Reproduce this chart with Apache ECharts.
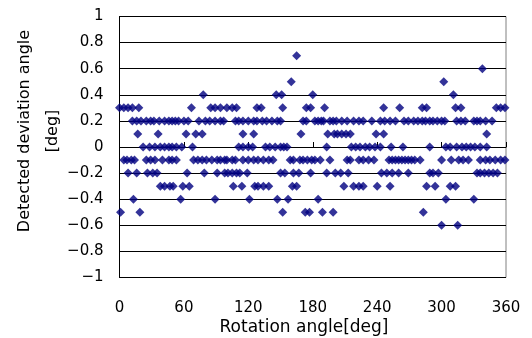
<!DOCTYPE html>
<html><head><meta charset="utf-8">
<script src="https://cdn.jsdelivr.net/npm/echarts@6/dist/echarts.min.js"></script>
<style>html,body{margin:0;padding:0;background:#fff}#c{width:532px;height:338px}</style>
</head><body><div id="c"></div>
<script>
// x positions (rotation angle, deg) of points at each detected deviation level
var levels = [0.7, 0.6, 0.5, 0.4, 0.3, 0.2, 0.1, 0, -0.1, -0.2, -0.3, -0.4, -0.5, -0.6];
var xAt07 = [165];
var xAt06 = [338];
var xAt05 = [160, 302];
var xAt04 = [78, 146, 151, 180, 311];
var xAt03 = [0, 4, 8, 12, 18, 67, 85, 89, 94, 100, 105, 109, 128, 132, 152, 174, 178, 191, 246, 261, 282, 286, 313, 318, 351, 355, 359];
var xAt02 = [12, 16, 20, 25, 29, 32, 37, 42, 46, 49, 52, 55, 60, 64, 74, 80, 84, 89, 94, 97, 108, 111, 115, 120, 125, 128, 133, 137, 142, 147, 150, 171, 174, 182, 185, 188, 190, 196, 199, 202, 207, 212, 218, 223, 227, 235, 243, 247, 252, 257, 265, 269, 274, 278, 282, 285, 289, 292, 296, 300, 303, 314, 318, 322, 330, 333, 336, 341, 347];
var xAt01 = [17, 36, 62, 71, 77, 115, 125, 169, 194, 200, 203, 207, 211, 215, 239, 246, 342];
var xAt00 = [22, 28, 33, 38, 42, 46, 49, 53, 58, 68, 111, 115, 120, 124, 136, 140, 145, 150, 153, 156, 193, 216, 220, 224, 229, 233, 238, 243, 253, 264, 289, 304, 308, 314, 319, 323, 327, 331, 336, 342];
var xAtM01 = [4, 7, 11, 14, 25, 29, 33, 40, 46, 49, 53, 69, 73, 77, 81, 86, 91, 94, 98, 100, 105, 108, 115, 120, 125, 129, 134, 139, 143, 159, 162, 168, 171, 175, 179, 182, 187, 196, 212, 215, 223, 227, 232, 237, 251, 254, 257, 260, 263, 266, 269, 272, 275, 280, 300, 309, 316, 320, 325, 336, 341, 345, 350, 355, 359];
var xAtM02 = [8, 16, 26, 31, 35, 63, 79, 91, 98, 101, 105, 109, 112, 119, 150, 154, 162, 167, 178, 193, 201, 206, 213, 244, 249, 254, 260, 269, 289, 292, 297, 333, 336, 340, 344, 348, 352];
var xAtM03 = [38, 42, 47, 50, 59, 65, 106, 114, 126, 129, 134, 139, 161, 165, 209, 218, 223, 227, 240, 252, 286, 294, 308, 313];
var xAtM04 = [13, 57, 89, 121, 147, 157, 185, 304, 330];
var xAtM05 = [1, 19, 152, 173, 177, 189, 199, 283];
var xAtM06 = [300, 315];
var xTicks = [0, 60, 120, 180, 240, 300, 360];
var yTicks = [-1, -0.8, -0.6, -0.4, -0.2, 0, 0.2, 0.4, 0.6, 0.8, 1];
var xTitle = 'Rotation angle[deg]';
var yTitle = 'Detected deviation angle\n[deg]';

var rows = [xAt07, xAt06, xAt05, xAt04, xAt03, xAt02, xAt01, xAt00, xAtM01, xAtM02, xAtM03, xAtM04, xAtM05, xAtM06];
var pts = [];
rows.forEach(function (xs, i) { xs.forEach(function (x) { pts.push([x, levels[i]]); }); });

var FONT = 'DejaVu Sans';
var chart = echarts.init(document.getElementById('c'), null, {renderer: 'canvas'});
chart.setOption({
  animation: false,
  backgroundColor: '#fff',
  grid: {left: 119.5, right: 26, top: 16.5, bottom: 60.5, show: true, borderColor: '#808080', borderWidth: 1},
  xAxis: {
    type: 'value', min: xTicks[0], max: xTicks[xTicks.length - 1], interval: 60,
    axisLine: {show: true, lineStyle: {color: '#000', width: 1}},
    axisTick: {show: true, inside: true, length: 5, lineStyle: {color: '#000'}},
    splitLine: {show: false},
    axisLabel: {margin: 23, color: '#000', fontFamily: FONT, fontSize: 15}
  },
  yAxis: {
    type: 'value', min: yTicks[0], max: yTicks[yTicks.length - 1], interval: 0.2,
    axisLine: {show: true, onZero: false, lineStyle: {color: '#000', width: 1}},
    axisTick: {show: true, inside: true, length: 5, lineStyle: {color: '#000'}},
    splitLine: {show: true, lineStyle: {color: '#000', width: 1}},
    axisLabel: {margin: 16, color: '#000', fontFamily: FONT, fontSize: 15,
      formatter: function (v) { return String(Math.round(v * 10) / 10).replace('-', '\u2212'); }}
  },
  series: [{
    type: 'scatter', symbol: 'diamond', symbolSize: 9,
    itemStyle: {color: '#000080'}, data: pts
  }],
  graphic: [
    {type: 'text', x: 38.5, y: 131, rotation: Math.PI / 2,
      style: {text: yTitle, fill: '#000', font: '16px "' + FONT + '"', lineHeight: 28, align: 'center', verticalAlign: 'middle'}},
    {type: 'text', x: 304, y: 328,
      style: {text: xTitle, fill: '#000', font: '17px "' + FONT + '"', align: 'center', verticalAlign: 'middle'}}
  ]
});
</script></body></html>
